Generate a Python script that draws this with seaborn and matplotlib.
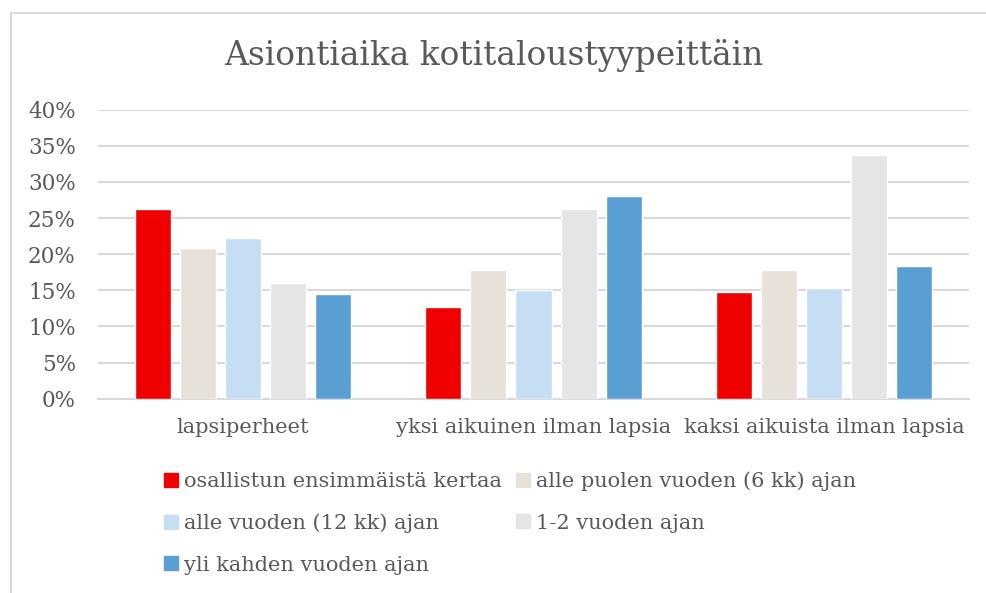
import pandas as pd
import seaborn as sns
import matplotlib.pyplot as plt
from matplotlib.lines import Line2D
from matplotlib.ticker import PercentFormatter

# data
groups = ["lapsiperheet", "yksi aikuinen ilman lapsia", "kaksi aikuista ilman lapsia"]
series = ["osallistun ensimmäistä kertaa", "alle puolen vuoden (6 kk) ajan",
          "alle vuoden (12 kk) ajan", "1-2 vuoden ajan", "yli kahden vuoden ajan"]
first_time = [26.3, 12.7, 14.7]
under_half_year = [20.8, 17.8, 17.8]
under_year = [22.3, 15.1, 15.3]
one_two_years = [16.0, 26.3, 33.7]
over_two_years = [14.5, 28.0, 18.4]
colors = ["#F00000", "#E7E1D9", "#C5DEF4", "#E4E5E7", "#5A9FD4"]

values = [first_time, under_half_year, under_year, one_two_years, over_two_years]
rows = []
for s, vals in zip(series, values):
    for g, v in zip(groups, vals):
        rows.append({"ryhmä": g, "sarja": s, "osuus": v})
df = pd.DataFrame(rows)

sns.set_style("white")
plt.rcParams['font.family'] = ['DejaVu Serif', 'Liberation Serif']
txt = "#595959"

fig = plt.figure(figsize=(9.87, 5.93), dpi=100)
ax = fig.add_axes([98 / 987, 1 - 398.7 / 593, 871 / 987, 289 / 593])

sns.barplot(data=df, x="ryhmä", y="osuus", hue="sarja", order=groups,
            hue_order=series, palette=colors, width=0.776, gap=0.2,
            saturation=1, legend=False, ax=ax, zorder=3)

ax.set_ylim(0, 40)
ax.set_yticks(range(0, 41, 5))
ax.yaxis.set_major_formatter(PercentFormatter(decimals=0))
ax.grid(axis="y", color="#D9D9D9", linewidth=1.5, zorder=0)
ax.set_axisbelow(True)
for side in ["top", "right", "left"]:
    ax.spines[side].set_visible(False)
ax.spines["bottom"].set_color("#D9D9D9")
ax.spines["bottom"].set_linewidth(1.5)
ax.tick_params(axis="y", length=0, pad=16, labelsize=15.5, labelcolor=txt)
ax.tick_params(axis="x", length=0, pad=14, labelsize=15, labelcolor=txt)
ax.set_xlabel("")
ax.set_ylabel("")

fig.text(0.5, 1 - 55 / 593, "Asiontiaika kotitaloustyypeittäin", ha="center",
         va="center", fontsize=23.7, color=txt)

# legend, row-wise order in two columns
handles = [Line2D([], [], marker="s", linestyle="", markersize=10,
                  markerfacecolor=c, markeredgecolor=c) for c in colors]
order = [0, 2, 4, 1, 3]
fig.legend([handles[i] for i in order], [series[i] for i in order],
           ncol=2, loc="upper left", bbox_to_anchor=(155 / 987, 1 - 463 / 593),
           frameon=False, fontsize=15, labelcolor=txt, handlelength=0.7,
           handletextpad=0.3, labelspacing=1.08, columnspacing=0.65,
           borderaxespad=0)

# thin frame lines like the original chart area
fig.add_artist(Line2D([11 / 987, 11 / 987], [0, 1 - 13 / 593], color="#D9D9D9", lw=1.5))
fig.add_artist(Line2D([11 / 987, 1], [1 - 13 / 593, 1 - 13 / 593], color="#D9D9D9", lw=1.5))

fig.savefig("out.png", dpi=100)
